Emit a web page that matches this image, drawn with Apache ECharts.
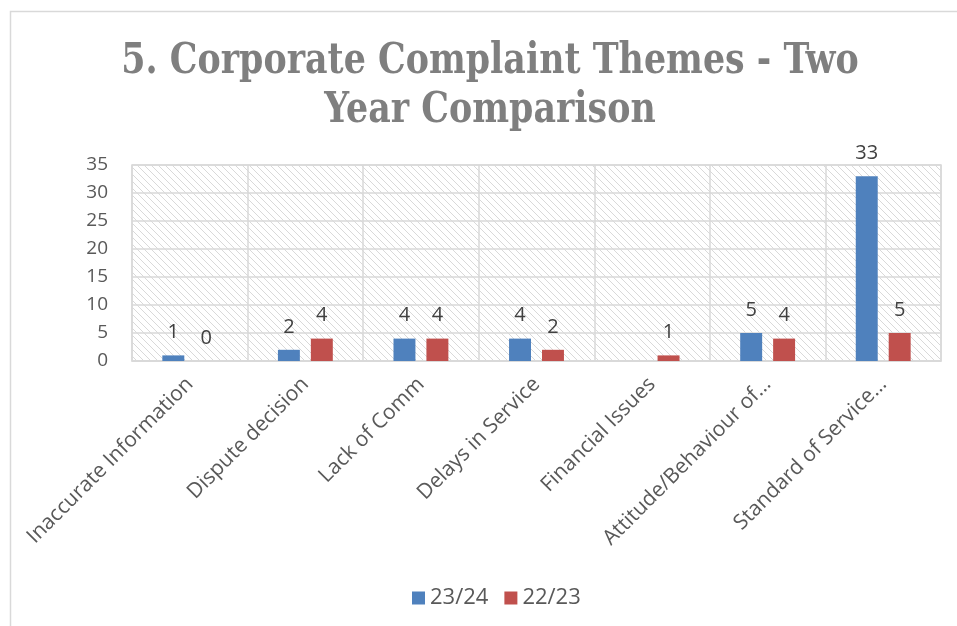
<!DOCTYPE html>
<html>
<head>
<meta charset="utf-8">
<script src="https://cdn.jsdelivr.net/npm/echarts@6/dist/echarts.min.js"></script>
<style>html,body{margin:0;padding:0;background:#fff;}#c{width:957px;height:626px;}</style>
</head>
<body>
<div id="c"></div>
<script>
var categories = ["Inaccurate Information", "Dispute decision", "Lack of Comm", "Delays in Service", "Financial Issues", "Attitude/Behaviour of\u2026", "Standard of Service\u2026"];
var seriesNames = ["23/24", "22/23"];
var values2324 = [1, 2, 4, 4, null, 5, 33];
var values2223 = [0, 4, 4, 2, 1, 4, 5];
var yTicks = {min: 0, max: 35, interval: 5};
var titleLines = ["5. Corporate Complaint Themes - Two", "Year Comparison"];

var pc = document.createElement('canvas');
pc.width = 7; pc.height = 7;
var ctx = pc.getContext('2d');
ctx.fillStyle = '#ffffff'; ctx.fillRect(0,0,7,7);
ctx.strokeStyle = '#d9d9d9'; ctx.lineWidth = 1;
ctx.beginPath();
ctx.moveTo(-1,-1); ctx.lineTo(8,8);
ctx.moveTo(-1,6); ctx.lineTo(1,8);
ctx.moveTo(6,-1); ctx.lineTo(8,1);
ctx.stroke();

var chart = echarts.init(document.getElementById('c'), null, {renderer: 'canvas'});
var lbl = {show: true, position: 'top', distance: 13, color: '#404040', fontSize: 20, fontFamily: 'Open Sans'};
var titleStyle = {fontFamily: 'DejaVu Serif', fontWeight: 'bold', fontSize: 43, fill: '#7f7f7f', align: 'center', verticalAlign: 'middle'};
chart.setOption({
  animation: false,
  graphic: [
    {type: 'rect', shape: {x: 10.5, y: 11.5, width: 960, height: 640}, style: {fill: 'none', stroke: '#d9d9d9', lineWidth: 1.5}, z: -10},
    {type: 'text', x: 490, y: 62, scaleX: 0.81, originX: 0, style: Object.assign({text: titleLines[0]}, titleStyle)},
    {type: 'text', x: 490, y: 111, scaleX: 0.81, originX: 0, style: Object.assign({text: titleLines[1]}, titleStyle)}
  ],
  legend: {
    data: seriesNames, top: 582, left: 407, itemWidth: 13, itemHeight: 13, itemGap: 16,
    icon: 'rect',
    textStyle: {fontFamily: 'Open Sans', fontSize: 22, color: '#595959'}
  },
  grid: {left: 132, right: 16, top: 165, bottom: 265, show: true, backgroundColor: {image: pc, repeat: 'repeat'}, borderColor: '#d9d9d9', borderWidth: 1.5},
  xAxis: {
    type: 'category', data: categories,
    axisLine: {show: true, lineStyle: {color: '#d9d9d9', width: 1.5}},
    axisTick: {show: false},
    splitLine: {show: true, interval: 0, lineStyle: {color: '#d9d9d9', width: 1.5}},
    axisLabel: {interval: 0, rotate: 45, fontFamily: 'Open Sans', fontSize: 21, color: '#595959', margin: 20}
  },
  yAxis: {
    type: 'value', min: yTicks.min, max: yTicks.max, interval: yTicks.interval,
    axisLine: {show: false}, axisTick: {show: false},
    splitLine: {lineStyle: {color: '#d9d9d9', width: 1.5}},
    axisLabel: {fontFamily: 'Open Sans', fontSize: 19, color: '#595959', margin: 24}
  },
  series: [
    {name: seriesNames[0], type: 'bar', data: values2324, barWidth: '19%', barGap: '50%', itemStyle: {color: '#4f81bd'}, label: lbl},
    {name: seriesNames[1], type: 'bar', data: values2223, barWidth: '19%', barGap: '50%', itemStyle: {color: '#c0504d'}, label: lbl}
  ]
});
</script>
</body>
</html>
